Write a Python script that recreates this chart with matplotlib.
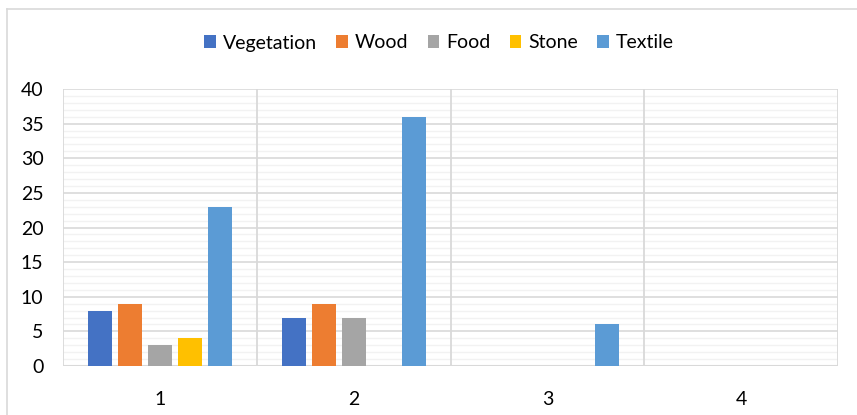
import matplotlib
matplotlib.use("Agg")
import matplotlib.pyplot as plt
from matplotlib.lines import Line2D
from matplotlib.patches import Patch
import numpy as np

categories = ["1", "2", "3", "4"]
series_names = ["Vegetation", "Wood", "Food", "Stone", "Textile"]
vegetation = [8, 7, 0, 0]
wood = [9, 9, 0, 0]
food = [3, 7, 0, 0]
stone = [4, 0, 0, 0]
textile = [23, 36, 6, 0]
colors = ["#4472C4", "#ED7D31", "#A5A5A5", "#FFC000", "#5B9BD5"]
yticks = [0, 5, 10, 15, 20, 25, 30, 35, 40]

W, H = 857, 415
fig = plt.figure(figsize=(W / 100, H / 100), dpi=100)
plt.rcParams['font.family'] = ['Lato', 'DejaVu Sans']

# axes placement in pixels
x0, x1 = 63, 838
y_top, y_bot = 89, 366
ax = fig.add_axes([x0 / W, 1 - y_bot / H, (x1 - x0) / W, (y_bot - y_top) / H])

series = [vegetation, wood, food, stone, textile]
x = np.arange(len(categories))
step = 30 / 194
width = 24 / 194
for i, (name, vals, c) in enumerate(zip(series_names, series, colors)):
    ax.bar(x + (i - 2) * step, vals, width, color=c, label=name, zorder=4)

ax.set_xlim(-0.5, len(categories) - 0.5)
ax.set_ylim(0, 40)
ax.set_yticks(yticks)
ax.set_yticks(np.arange(0, 41, 1), minor=True)
ax.set_xticks(x)
ax.set_xticklabels(categories)
ax.tick_params(axis='both', which='both', length=0, labelsize=14, colors='#000000')
ax.tick_params(axis='y', pad=14)
ax.tick_params(axis='x', pad=18)

ax.set_axisbelow(True)
ax.grid(axis='y', which='minor', color='#F2F2F2', linewidth=1.0)
ax.grid(axis='y', which='major', color='#D9D9D9', linewidth=1.2)
for xs in np.arange(-0.5, len(categories), 1.0):
    ax.axvline(xs, color='#D9D9D9', linewidth=1.3, zorder=3)
for s in ax.spines.values():
    s.set_visible(False)
ax.axhline(0, color='#D9D9D9', linewidth=1.5, zorder=3)

# legend
handles = [Patch(facecolor=c, edgecolor='none') for c in colors]
fig.legend(handles, series_names, loc='center', bbox_to_anchor=(439 / W, 1 - 43 / H),
           ncol=5, frameon=False, fontsize=14, handlelength=0.6, handleheight=0.6,
           handletextpad=0.35, columnspacing=1.0)

# chart border (extends beyond figure on right/bottom)
fig.add_artist(Line2D([7 / W, 1.0], [1 - 9 / H, 1 - 9 / H], transform=fig.transFigure,
                      color='#D9D9D9', linewidth=1.2))
fig.add_artist(Line2D([7 / W, 7 / W], [1 - 9 / H, 0.0], transform=fig.transFigure,
                      color='#D9D9D9', linewidth=1.2))

fig.savefig("out.png", dpi=100)
